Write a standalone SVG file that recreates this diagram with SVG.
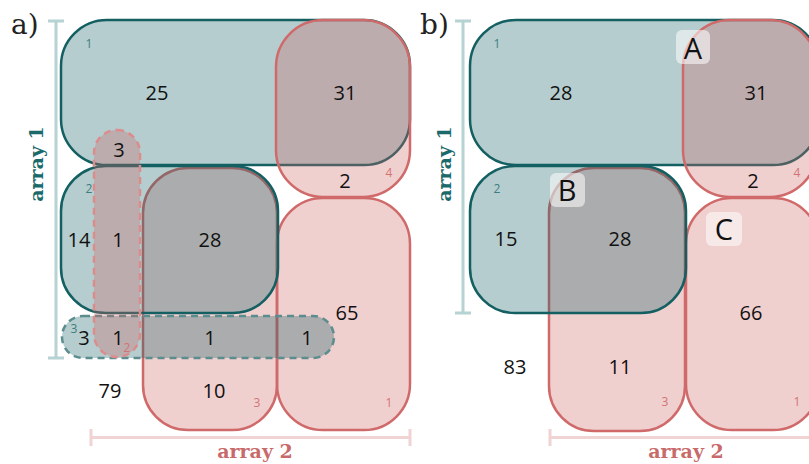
<svg xmlns="http://www.w3.org/2000/svg" width="809" height="464" viewBox="0 0 809 464">
  <style>
    .tf { fill:#0f5e61; fill-opacity:.31; stroke:#135f62; stroke-width:2.5 }
    .pf { fill:#d06464; fill-opacity:.31; stroke:#d06a6a; stroke-width:2.5 }
    .td { fill:#0f5e61; fill-opacity:.31; stroke:#5b8d8e; stroke-width:2.5; stroke-dasharray:7 5 }
    .pd { fill:#d06464; fill-opacity:.31; stroke:#dc8c8c; stroke-width:2.5; stroke-dasharray:7 5 }
    .n { font-family:"Open Sans","Noto Sans",sans-serif; font-size:20px; fill:#111; text-anchor:middle }
    .s { font-family:"Open Sans","Noto Sans",sans-serif; font-size:12px; text-anchor:middle }
    .st { fill:#3c7e80 }
    .sp { fill:#d27474 }
    .ax { font-family:"DejaVu Serif",serif; font-weight:bold; font-size:19px; text-anchor:middle }
    .axt { fill:#1b6a6b }
    .axp { fill:#c96a6a }
    .pl { font-family:"DejaVu Serif",serif; font-size:28px; fill:#222 }
    .brt { stroke:#b7d2d2; stroke-width:3; fill:none }
    .brp { stroke:#f0d4d4; stroke-width:3; fill:none }
    .box { fill:#fff; fill-opacity:.55 }
    .L { font-family:"Open Sans","Noto Sans",sans-serif; font-size:29px; fill:#111; text-anchor:middle }
  </style>

  <!-- panel a: set regions -->
  <g id="a-array2-set3"><rect class="pf" x="143" y="168" width="134" height="262" rx="45"/></g>
  <g id="a-array2-set1"><rect class="pf" x="277" y="198" width="133" height="232" rx="46"/></g>
  <g id="a-array1-set1"><rect class="tf" x="61" y="20" width="349" height="145" rx="46"/></g>
  <g id="a-array1-set2"><rect class="tf" x="61" y="166" width="217" height="147" rx="45"/></g>
  <g id="a-array1-set3"><rect class="td" x="62" y="316" width="272" height="42" rx="21"/></g>
  <g id="a-array2-set4"><rect class="pf" x="276" y="20" width="134" height="177" rx="47"/></g>
  <g id="a-array2-set2"><rect class="pd" x="94" y="130" width="46" height="227" rx="23"/></g>

  <!-- panel b: set regions -->
  <g id="b-array2-set3"><rect class="pf" x="549" y="168" width="136" height="263" rx="45"/></g>
  <g id="b-array2-set1"><rect class="pf" x="686" y="198" width="133" height="232" rx="46"/></g>
  <g id="b-array1-set1"><rect class="tf" x="470" y="20" width="349" height="145" rx="46"/></g>
  <g id="b-array1-set2"><rect class="tf" x="470" y="166" width="216" height="147" rx="45"/></g>
  <g id="b-array2-set4"><rect class="pf" x="683" y="20" width="134" height="177" rx="47"/></g>

  <!-- brackets spanning each array -->
  <g id="connectors">
    <path class="brt" d="M56 21V358M48 21H64M48 358H64"/>
    <path class="brp" d="M91 437.5H410M91 429V446M410 429V446"/>
    <path class="brt" d="M463 21V313M455 21H471M455 313H471"/>
    <path class="brp" d="M550 437.5H812M550 429V446"/>
  </g>

  <!-- panel a: labels -->
  <g id="a-labels">
    <text class="pl" x="11" y="34">a)</text>
    <text class="ax axt" transform="translate(43 164) rotate(-90)">array 1</text>
    <text class="ax axp" x="255" y="458">array 2</text>
    <text class="n" x="157" y="100">25</text>
    <text class="n" x="345" y="100">31</text>
    <text class="n" x="119" y="157">3</text>
    <text class="n" x="79" y="247">14</text>
    <text class="n" x="118" y="247">1</text>
    <text class="n" x="210" y="247">28</text>
    <text class="n" x="345" y="188">2</text>
    <text class="n" x="347" y="320">65</text>
    <text class="n" x="84" y="345">3</text>
    <text class="n" x="118" y="345">1</text>
    <text class="n" x="210" y="345">1</text>
    <text class="n" x="307" y="345">1</text>
    <text class="n" x="110" y="398">79</text>
    <text class="n" x="214" y="398">10</text>
    <text class="s st" x="89" y="48">1</text>
    <text class="s st" x="89" y="193">2</text>
    <text class="s st" x="74" y="333">3</text>
    <text class="s sp" x="127" y="352">2</text>
    <text class="s sp" x="389" y="177">4</text>
    <text class="s sp" x="257" y="407">3</text>
    <text class="s sp" x="389" y="407">1</text>
  </g>

  <!-- panel b: labels -->
  <g id="b-labels">
    <text class="pl" x="420" y="34">b)</text>
    <text class="ax axt" transform="translate(451 164) rotate(-90)">array 1</text>
    <text class="ax axp" x="686" y="458">array 2</text>
    <text class="n" x="561" y="100">28</text>
    <text class="n" x="756" y="100">31</text>
    <text class="n" x="753" y="188">2</text>
    <text class="n" x="506" y="246">15</text>
    <text class="n" x="620" y="246">28</text>
    <text class="n" x="751" y="320">66</text>
    <text class="n" x="515" y="374">83</text>
    <text class="n" x="620" y="374">11</text>
    <text class="s st" x="497" y="48">1</text>
    <text class="s st" x="497" y="193">2</text>
    <text class="s sp" x="797" y="177">4</text>
    <text class="s sp" x="665" y="406">3</text>
    <text class="s sp" x="797" y="406">1</text>
  </g>

  <!-- marked regions A, B, C -->
  <g id="mark-A"><rect class="box" x="676" y="30" width="34" height="34" rx="6"/><text class="L" x="693" y="59">A</text></g>
  <g id="mark-B"><rect class="box" x="550" y="173" width="35" height="34" rx="6"/><text class="L" x="567" y="201">B</text></g>
  <g id="mark-C"><rect class="box" x="706" y="212" width="36" height="34" rx="6"/><text class="L" x="724" y="240">C</text></g>
</svg>
